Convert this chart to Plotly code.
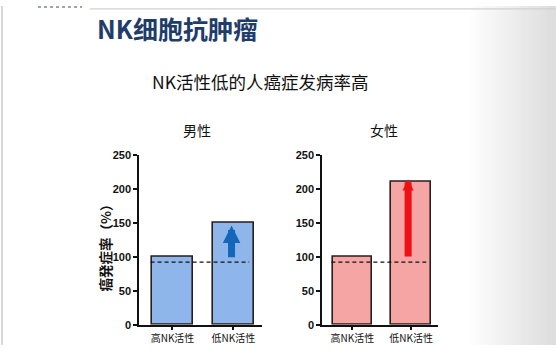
import plotly.graph_objects as go

# ---- data ----
categories = ["高NK活性", "低NK活性"]
male_values = [100, 150]
female_values = [100, 210]
baseline = 92
male_arrow = [97, 146]
female_arrow = [98, 214]
y_ticks = [0, 50, 100, 150, 200, 250]

W, H = 556, 351
CJK = "Noto Sans CJK SC"

fig = go.Figure()

def add_panel(values, xa, ya, fill, arrow, arrow_color, arrow_x, head):
    fig.add_trace(go.Bar(
        x=[0, 1], y=values, width=0.67,
        marker=dict(color=fill, line=dict(color="#2a1d1d", width=1.6)),
        xaxis=xa, yaxis=ya, showlegend=False, hoverinfo="skip"))
    fig.add_trace(go.Scatter(
        x=[-0.36, 1.26], y=[baseline, baseline], mode="lines",
        line=dict(color="#111111", width=1.3, dash="4px,3px"),
        xaxis=xa, yaxis=ya, showlegend=False, hoverinfo="skip"))
    fig.add_annotation(
        x=arrow_x, y=arrow[1], ax=arrow_x, ay=arrow[0],
        xref=xa, yref=ya, axref=xa, ayref=ya,
        showarrow=True, arrowhead=2, arrowsize=head, arrowwidth=7,
        arrowcolor=arrow_color, text="", standoff=0, startstandoff=0)

add_panel(male_values, "x", "y", "#8fb6ea", male_arrow, "#1466b8", 0.97, 0.5)
add_panel(female_values, "x2", "y2", "#f6a5a5", female_arrow, "#ee1111", 0.95, 0.32)

ydom = [1 - 330 / H, 1 - 154 / H]
axis_common = dict(showline=True, linecolor="#111111", linewidth=1.5,
                   ticks="outside", ticklen=4, tickwidth=1.5, tickcolor="#111111",
                   showgrid=False, zeroline=False)
yaxis_common = dict(axis_common, range=[0, 250], tickvals=y_ticks,
                    tickfont=dict(family="Arial, Liberation Sans", size=11, color="#111111", weight="bold"))
xaxis_common = dict(axis_common, tickvals=[0, 1], ticktext=categories,
                    tickfont=dict(family=CJK, size=10, color="#111111"))

fig.update_layout(
    width=W, height=H, margin=dict(l=0, r=0, t=0, b=0),
    paper_bgcolor="white", plot_bgcolor="rgba(0,0,0,0)",
    bargap=0,
    xaxis=dict(xaxis_common, domain=[139 / W, 262 / W], range=[-0.55, 1.47], anchor="y"),
    yaxis=dict(yaxis_common, domain=ydom, anchor="x"),
    xaxis2=dict(xaxis_common, domain=[322 / W, 438 / W], range=[-0.52, 1.46], anchor="y2"),
    yaxis2=dict(yaxis_common, domain=ydom, anchor="x2"),
)

# background gradient on the right and slide borders
steps = 24
for i in range(steps):
    x0 = 470 + i * (86 / steps)
    g = int(255 - (i + 1) * (34 / steps))
    fig.add_shape(type="rect", xref="paper", yref="paper", layer="below",
                  x0=x0 / W, x1=(x0 + 86 / steps + 0.5) / W, y0=0, y1=1,
                  line=dict(width=0), fillcolor=f"rgb({g},{g},{g})")
fig.add_shape(type="line", xref="paper", yref="paper", x0=2 / W, x1=2 / W, y0=0, y1=1,
              line=dict(color="#d8d8d8", width=2))
fig.add_shape(type="line", xref="paper", yref="paper", x0=90 / W, x1=1, y0=1 - 3 / H, y1=1 - 3 / H,
              line=dict(color="#d0d0d0", width=1.2))
fig.add_shape(type="line", xref="paper", yref="paper", x0=38 / W, x1=82 / W, y0=1 - 1 / H, y1=1 - 1 / H,
              line=dict(color="#9aa6b4", width=2, dash="dot"))

def txt(x, y, s, size, color="#111111", family=CJK, weight="normal", angle=0):
    fig.add_annotation(x=x / W, y=1 - y / H, xref="paper", yref="paper", text=s,
                       showarrow=False, textangle=angle,
                       font=dict(family=family, size=size, color=color, weight=weight),
                       xanchor="center", yanchor="middle")

txt(177, 23, "NK细胞抗肿瘤", 25, color="#1f3d6b", weight="bold")
txt(260, 78, "NK活性低的人癌症发病率高", 17.5)
txt(197, 128, "男性", 14)
txt(384, 128, "女性", 14)
txt(105, 247, "癌発症率（%）", 13.5, angle=-90, family="Noto Sans CJK JP", weight="bold")

fig.write_html("out.html")
